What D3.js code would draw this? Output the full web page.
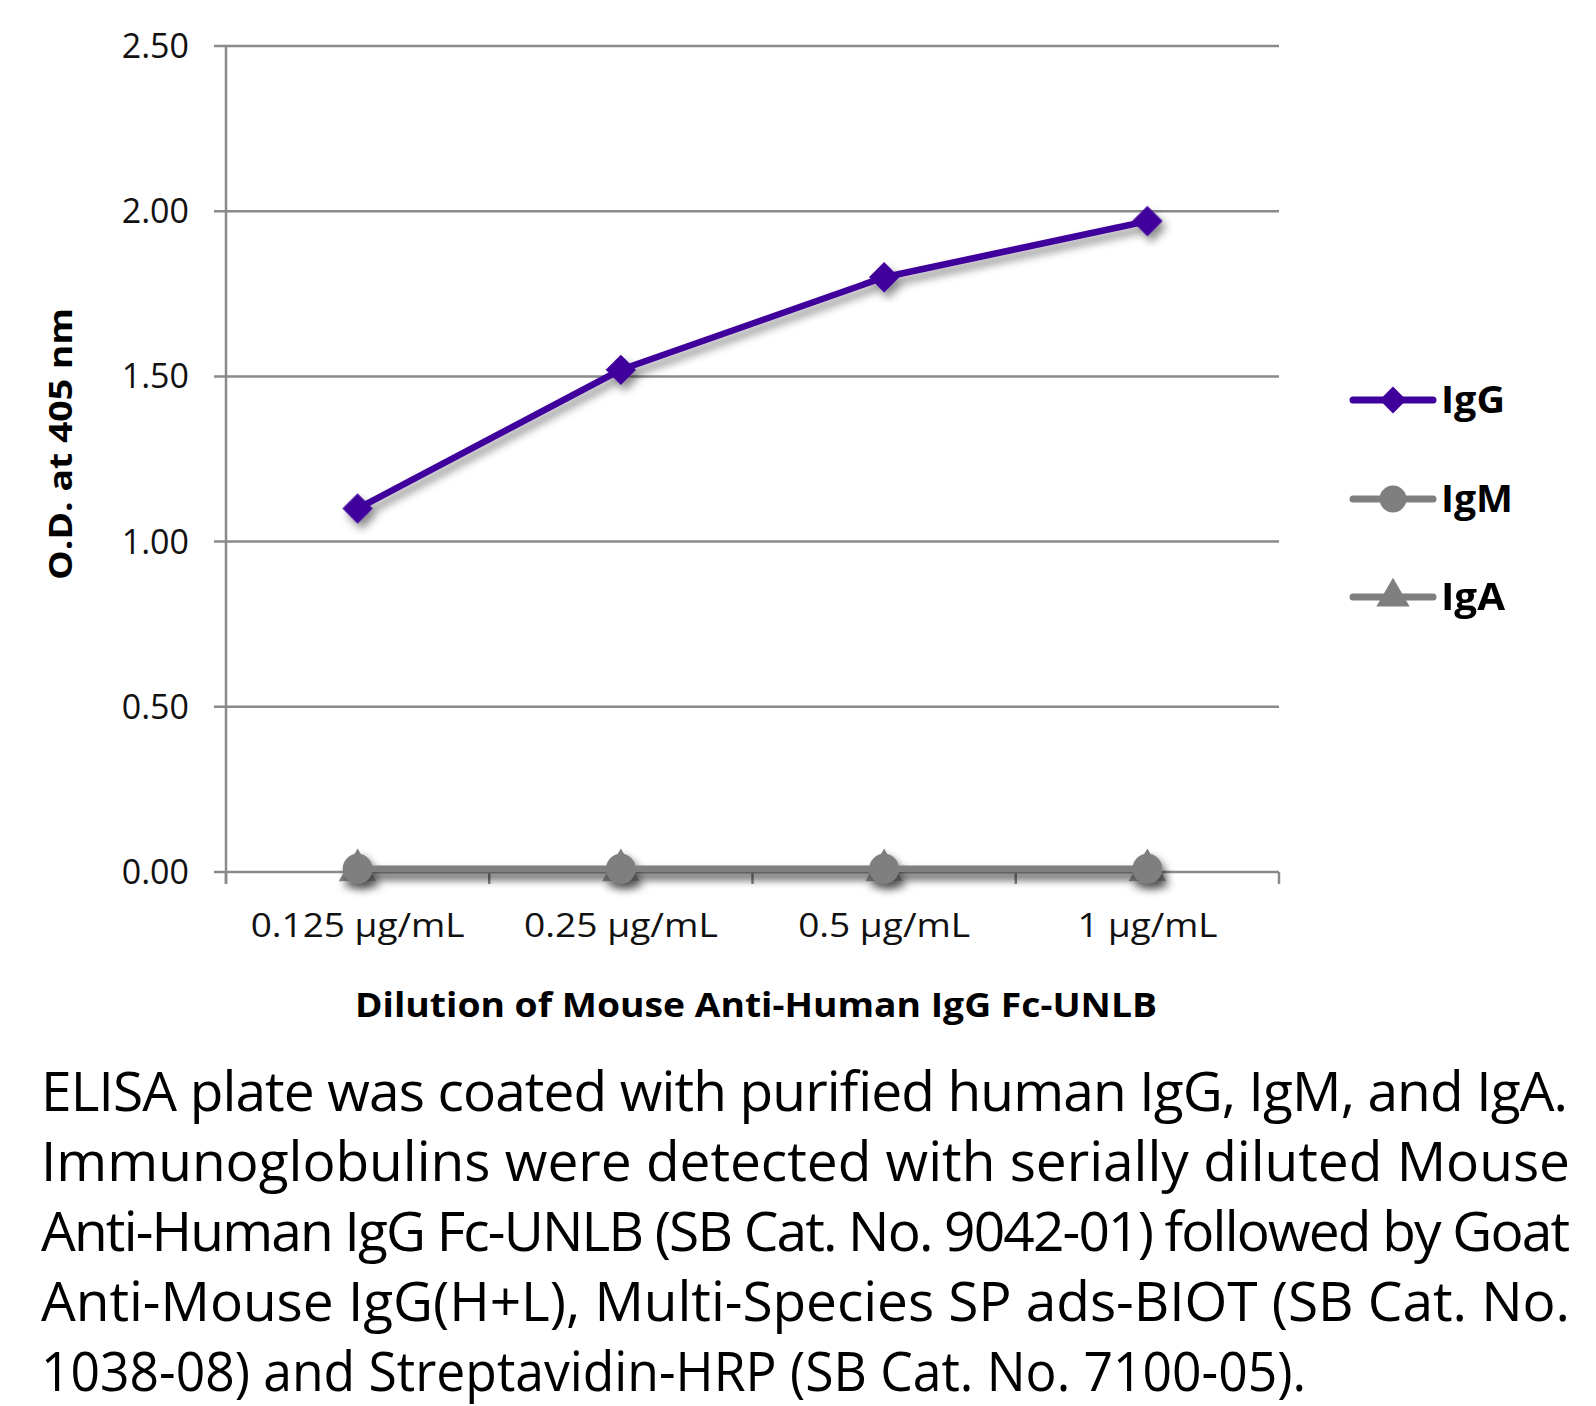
<!DOCTYPE html>
<html><head><meta charset="utf-8">
<script src="https://cdn.jsdelivr.net/npm/d3@7"></script>
<style>body{margin:0;background:#fff}svg{display:block}</style>
</head><body>
<svg id="c" width="1596" height="1406"></svg>
<script>
const categories = ["0.125 µg/mL","0.25 µg/mL","0.5 µg/mL","1 µg/mL"];
const igG = [1.10, 1.52, 1.80, 1.97];
const igM = [0.01, 0.01, 0.01, 0.01];
const igA = [0.005, 0.005, 0.005, 0.005];
const yTicks = [0, 0.5, 1.0, 1.5, 2.0, 2.5];
const seriesNames = ["IgG","IgM","IgA"];
const captionLines = [
  "ELISA plate was coated with purified human IgG, IgM, and IgA.",
  "Immunoglobulins were detected with serially diluted Mouse",
  "Anti-Human IgG Fc-UNLB (SB Cat. No. 9042-01) followed by Goat",
  "Anti-Mouse IgG(H+L), Multi-Species SP ads-BIOT (SB Cat. No.",
  "1038-08) and Streptavidin-HRP (SB Cat. No. 7100-05)."
];

(function(){
const svg = d3.select("#c");
const font = "'Open Sans', 'Noto Sans', sans-serif";
const pL = 226, pR = 1279, pT = 46, pB = 872;
const x = d3.scaleBand().domain(categories).range([pL, pR]);
const y = d3.scaleLinear().domain([0, 2.5]).range([pB, pT]);
const cx = d => x(d) + x.bandwidth() / 2;

const defs = svg.append("defs");
const f = defs.append("filter").attr("id","sh").attr("x","-50%").attr("y","-50%").attr("width","200%").attr("height","200%");
f.append("feDropShadow").attr("dx",4).attr("dy",6).attr("stdDeviation",4).attr("flood-color","#000").attr("flood-opacity",0.45);

svg.append("g").selectAll("line").data(yTicks).join("line")
  .attr("x1", pL - 12).attr("x2", pR).attr("y1", d => y(d)).attr("y2", d => y(d))
  .attr("stroke", "#8a8a8a").attr("stroke-width", 2.5);
svg.append("line").attr("x1", pL).attr("x2", pL).attr("y1", pT).attr("y2", pB + 12)
  .attr("stroke", "#8a8a8a").attr("stroke-width", 2.5);
const xb = categories.map(c => x(c)).concat([pR]);
svg.append("g").selectAll("line").data(xb).join("line")
  .attr("x1", d => d).attr("x2", d => d).attr("y1", pB).attr("y2", pB + 12)
  .attr("stroke", "#8a8a8a").attr("stroke-width", 2.5);
svg.append("g").selectAll("text").data(yTicks).join("text")
  .attr("x", 189).attr("y", d => y(d)).attr("dy", "0.35em").attr("text-anchor", "end")
  .attr("font-family", font).attr("font-size", 34).attr("fill", "#111")
  .text(d => d3.format(".2f")(d));
svg.append("g").selectAll("text").data(categories).join("text")
  .attr("x", d => cx(d)).attr("y", 926).attr("dy", "0.35em").attr("text-anchor", "middle")
  .attr("font-family", font).attr("font-size", 32).attr("fill", "#111")
  .attr("textLength", (d,i) => [214,194,172,140][i]).attr("lengthAdjust","spacingAndGlyphs")
  .text(d => d);
svg.append("text").attr("x", 756).attr("y", 1005).attr("dy", "0.35em").attr("text-anchor", "middle")
  .attr("font-family", font).attr("font-weight", "bold").attr("font-size", 34).attr("fill", "#000")
  .attr("textLength", 802).attr("lengthAdjust","spacingAndGlyphs")
  .text("Dilution of Mouse Anti-Human IgG Fc-UNLB");
svg.append("text").attr("transform", "translate(61,444) rotate(-90)").attr("dy", "0.35em").attr("text-anchor", "middle")
  .attr("font-family", font).attr("font-weight", "bold").attr("font-size", 32).attr("fill", "#000")
  .attr("textLength", 272).attr("lengthAdjust","spacingAndGlyphs")
  .text("O.D. at 405 nm");

const line = d3.line().x((d,i) => cx(categories[i])).y(d => y(d));
const series = [
  {name: "IgA", vals: igA, color: "#7f7f7f", shape: d3.symbolTriangle, size: 620, lsize: 480, rot: 0},
  {name: "IgM", vals: igM, color: "#7f7f7f", shape: d3.symbolCircle, size: 700, lsize: 570, rot: 0},
  {name: "IgG", vals: igG, color: "#40009b", shape: d3.symbolSquare, size: 460, lsize: 360, rot: 45}
];
series.forEach(s => {
  const g = svg.append("g").attr("filter", "url(#sh)");
  g.append("path").datum(s.vals).attr("d", line).attr("fill", "none")
    .attr("stroke", s.color).attr("stroke-width", 6.5).attr("stroke-linejoin", "round");
  g.selectAll("path.m").data(s.vals).join("path").attr("class","m")
    .attr("transform", (d,i) => `translate(${cx(categories[i])},${y(d)}) rotate(${s.rot})`)
    .attr("d", d3.symbol().type(s.shape).size(s.size)).attr("fill", s.color);
});

const legY = [400, 499, 597];
const legSeries = [series[2], series[1], series[0]];
legSeries.forEach((s, i) => {
  const g = svg.append("g");
  g.append("line").attr("x1", 1353).attr("x2", 1433).attr("y1", legY[i]).attr("y2", legY[i])
    .attr("stroke", s.color).attr("stroke-width", 7).attr("stroke-linecap", "round");
  g.append("path").attr("transform", `translate(1393,${legY[i]}) rotate(${s.rot})`)
    .attr("d", d3.symbol().type(s.shape).size(s.lsize)).attr("fill", s.color);
  g.append("text").attr("x", 1441).attr("y", legY[i]).attr("dy", "0.36em")
    .attr("font-family", font).attr("font-weight", "bold").attr("font-size", 37).attr("fill", "#000")
    .attr("textLength", [64,72,64][i]).attr("lengthAdjust","spacingAndGlyphs")
    .text(seriesNames[i]);
});

const capW = [1527, 1529, 1529, 1529, 1265];
svg.append("g").selectAll("text").data(captionLines).join("text")
  .attr("x", 41).attr("y", (d,i) => 1111 + i * 70)
  .attr("font-family", font).attr("font-size", 55).attr("fill", "#000")
  .attr("textLength", (d,i) => capW[i]).attr("lengthAdjust", (d,i) => i < 4 ? "spacing" : "spacingAndGlyphs")
  .text(d => d);
})();
</script>
</body></html>
